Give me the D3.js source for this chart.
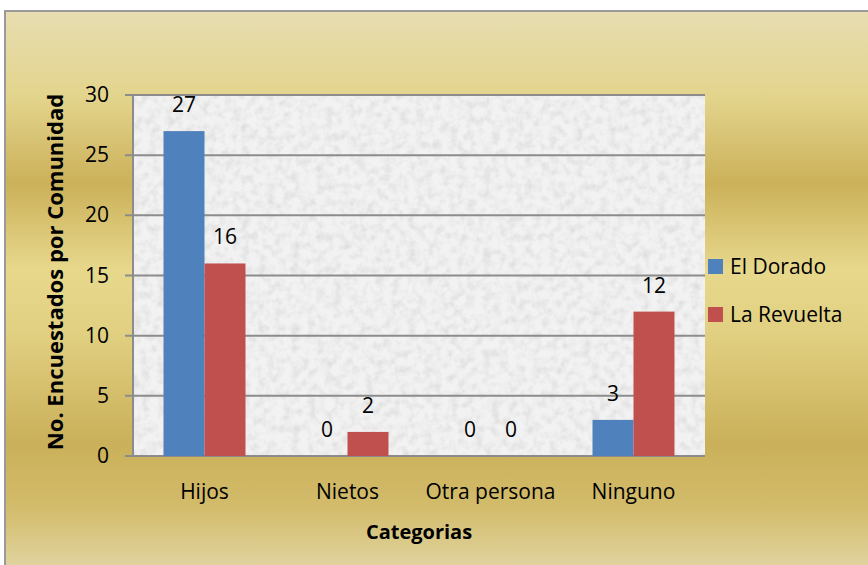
<!DOCTYPE html>
<html>
<head>
<meta charset="utf-8">
<script src="https://cdn.jsdelivr.net/npm/d3@7"></script>
<style>
  html, body { margin: 0; padding: 0; background: #ffffff; }
  svg { display: block; font-family: "Open Sans", "Noto Sans", sans-serif; }
</style>
</head>
<body>
<div id="chart"></div>
<script>
// data
const categories = ["Hijos", "Nietos", "Otra persona", "Ninguno"];
const seriesNames = ["El Dorado", "La Revuelta"];
const elDorado = [27, 0, 0, 3];
const laRevuelta = [16, 2, 0, 12];
const yTicks = [0, 5, 10, 15, 20, 25, 30];
const colors = ["#4f81bd", "#c0504d"];

const width = 868, height = 565;
const plot = { left: 133, right: 705, top: 95, bottom: 456 };

const svg = d3.select("#chart").append("svg")
  .attr("width", width)
  .attr("height", height);

const defs = svg.append("defs");

// gold background gradient
const grad = defs.append("linearGradient")
  .attr("id", "gold")
  .attr("x1", 0).attr("y1", 0).attr("x2", 0).attr("y2", 1);
[
  [0, "#e7ddb1"], [0.15, "#e3d48c"], [0.3, "#cbb15a"], [0.45, "#e7d88c"],
  [0.56, "#e1d081"], [0.75, "#cab05a"], [0.86, "#d2bb6a"], [1, "#e4dbaf"]
].forEach(s => grad.append("stop").attr("offset", s[0]).attr("stop-color", s[1]));

// granite-ish texture for the plot area
const filt = defs.append("filter")
  .attr("id", "granite")
  .attr("x", 0).attr("y", 0).attr("width", 1).attr("height", 1);
filt.append("feTurbulence")
  .attr("type", "fractalNoise")
  .attr("baseFrequency", 0.12)
  .attr("numOctaves", 3)
  .attr("seed", 4)
  .attr("result", "noise");
filt.append("feColorMatrix")
  .attr("in", "noise")
  .attr("type", "matrix")
  .attr("values", "0 0 0 0 0.62  0 0 0 0 0.62  0 0 0 0 0.62  -1.2 0 0 0 0.72")
  .attr("result", "spots");
filt.append("feComposite")
  .attr("in", "spots")
  .attr("in2", "SourceGraphic")
  .attr("operator", "atop");

svg.append("rect")
  .attr("x", 5).attr("y", 11)
  .attr("width", width + 10).attr("height", height + 10)
  .attr("fill", "url(#gold)")
  .attr("stroke", "#9a9a9a")
  .attr("stroke-width", 2);

svg.append("rect")
  .attr("x", plot.left).attr("y", plot.top)
  .attr("width", plot.right - plot.left).attr("height", plot.bottom - plot.top)
  .attr("fill", "#f2f2f2")
  .attr("filter", "url(#granite)");

const x0 = d3.scaleBand()
  .domain(categories)
  .range([plot.left, plot.right]);

const x1 = d3.scaleBand()
  .domain(seriesNames)
  .range([0, x0.bandwidth()])
  .paddingOuter(0.744)
  .paddingInner(0);

const y = d3.scaleLinear()
  .domain([0, 30])
  .range([plot.bottom, plot.top]);

// gridlines
svg.append("g")
  .selectAll("line")
  .data(yTicks)
  .join("line")
  .attr("x1", plot.left - 8)
  .attr("x2", plot.right)
  .attr("y1", d => y(d))
  .attr("y2", d => y(d))
  .attr("stroke", "#8c8c8c")
  .attr("stroke-width", 2);

// y axis line
svg.append("line")
  .attr("x1", plot.left).attr("x2", plot.left)
  .attr("y1", plot.top).attr("y2", plot.bottom)
  .attr("stroke", "#8c8c8c")
  .attr("stroke-width", 2);

// y tick labels
svg.append("g")
  .selectAll("text")
  .data(yTicks)
  .join("text")
  .attr("x", 109)
  .attr("y", d => y(d) + 7)
  .attr("text-anchor", "end")
  .attr("font-size", 21)
  .attr("fill", "#000")
  .text(d => d);

// bars
const seriesData = [elDorado, laRevuelta];
const rows = categories.map((c, i) => ({
  cat: c,
  vals: seriesNames.map((s, j) => ({ key: s, value: seriesData[j][i], color: colors[j] }))
}));

const groups = svg.append("g")
  .selectAll("g")
  .data(rows)
  .join("g")
  .attr("transform", d => `translate(${x0(d.cat)},0)`);

groups.selectAll("rect")
  .data(d => d.vals)
  .join("rect")
  .attr("x", d => x1(d.key))
  .attr("width", x1.bandwidth())
  .attr("y", d => y(d.value))
  .attr("height", d => y(0) - y(d.value))
  .attr("fill", d => d.color);

groups.selectAll("text")
  .data(d => d.vals)
  .join("text")
  .attr("x", d => x1(d.key) + x1.bandwidth() / 2)
  .attr("y", d => y(d.value) - 19)
  .attr("text-anchor", "middle")
  .attr("font-size", 21)
  .attr("fill", "#000")
  .text(d => d.value);

// category labels
svg.append("g")
  .selectAll("text")
  .data(categories)
  .join("text")
  .attr("x", d => x0(d) + x0.bandwidth() / 2)
  .attr("y", 499)
  .attr("text-anchor", "middle")
  .attr("font-size", 21)
  .attr("fill", "#000")
  .text(d => d);

// axis titles
svg.append("text")
  .attr("x", 419)
  .attr("y", 539)
  .attr("text-anchor", "middle")
  .attr("font-size", 20)
  .attr("font-weight", "bold")
  .text("Categorias");

svg.append("text")
  .attr("transform", "translate(63,272) rotate(-90)")
  .attr("text-anchor", "middle")
  .attr("font-size", 22)
  .attr("font-weight", "bold")
  .text("No. Encuestados por Comunidad");

// legend
const legend = svg.append("g")
  .selectAll("g")
  .data(seriesNames)
  .join("g")
  .attr("transform", (d, i) => `translate(708,${259 + i * 48})`);

legend.append("rect")
  .attr("width", 15).attr("height", 15)
  .attr("fill", (d, i) => colors[i]);

legend.append("text")
  .attr("x", 22)
  .attr("y", 15)
  .attr("font-size", 21)
  .attr("fill", "#000")
  .text(d => d);
</script>
</body>
</html>
